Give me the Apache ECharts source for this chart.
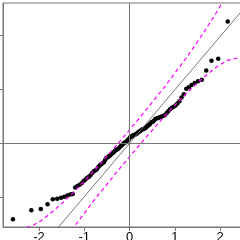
<!DOCTYPE html>
<html><head><meta charset="utf-8">
<script src="https://cdn.jsdelivr.net/npm/echarts@6/dist/echarts.min.js"></script>
<style>html,body{margin:0;padding:0;background:#fff}#c{width:240px;height:240px}</style>
</head><body><div id="c"></div>
<script>
// Theoretical normal quantiles (x) for the 100 ordered observations
var theoQ = [-2.576,-2.170,-1.960,-1.812,-1.695,-1.598,-1.514,-1.440,-1.372,-1.311,
 -1.254,-1.200,-1.150,-1.103,-1.058,-1.015,-0.974,-0.935,-0.896,-0.860,
 -0.824,-0.789,-0.755,-0.722,-0.690,-0.659,-0.628,-0.598,-0.568,-0.539,
 -0.510,-0.482,-0.454,-0.426,-0.399,-0.372,-0.345,-0.319,-0.292,-0.266,
 -0.240,-0.215,-0.189,-0.164,-0.138,-0.113,-0.088,-0.063,-0.038,-0.013,
 0.013,0.038,0.063,0.088,0.113,0.138,0.164,0.189,0.215,0.240,
 0.266,0.292,0.319,0.345,0.372,0.399,0.426,0.454,0.482,0.510,
 0.539,0.568,0.598,0.628,0.659,0.690,0.722,0.755,0.789,0.824,
 0.860,0.896,0.935,0.974,1.015,1.058,1.103,1.150,1.200,1.254,
 1.311,1.372,1.440,1.514,1.598,1.695,1.812,1.960,2.170,2.576];
// Sample quantiles (y)
var sampleQ = [-1.41,-1.24,-1.22,-1.13,-1.04,-1.03,-1.01,-0.99,-0.97,-0.95,
 -0.94,-0.82,-0.79,-0.77,-0.74,-0.70,-0.67,-0.64,-0.62,-0.59,
 -0.55,-0.52,-0.50,-0.48,-0.44,-0.41,-0.39,-0.37,-0.35,-0.31,
 -0.27,-0.26,-0.24,-0.22,-0.20,-0.18,-0.16,-0.14,-0.12,-0.11,
 -0.09,-0.07,-0.05,-0.03,-0.01,0.01,0.02,0.04,0.06,0.08,
 0.11,0.12,0.14,0.15,0.16,0.17,0.18,0.20,0.22,0.23,
 0.25,0.26,0.27,0.28,0.30,0.32,0.34,0.36,0.39,0.40,
 0.42,0.45,0.46,0.47,0.48,0.49,0.50,0.51,0.53,0.56,
 0.60,0.63,0.66,0.68,0.70,0.74,0.78,0.85,0.91,1.01,
 1.04,1.08,1.12,1.15,1.18,1.35,1.53,1.57,2.26,2.45];
// Confidence envelope
var bandX = [-2.576,-2.17,-1.96,-1.75,-1.5,-1.25,-1.0,-0.75,-0.5,-0.25,0,0.25,0.5,0.75,1.0,1.25,1.5,1.75,1.96,2.17,2.576];
var bandUpper = [-1.62,-1.54,-1.44,-1.30,-1.12,-0.92,-0.70,-0.48,-0.24,0.00,0.25,0.50,0.76,1.02,1.30,1.58,1.88,2.20,2.48,2.80,3.53];
var bandLower = [-3.53,-2.80,-2.48,-2.20,-1.88,-1.58,-1.30,-1.02,-0.76,-0.50,-0.25,0.00,0.24,0.48,0.70,0.92,1.12,1.30,1.44,1.54,1.62];
// Reference line
var lineIntercept = 0.0, lineSlope = 0.99;
var xTicks = [-2,-1,0,1,2];
var yTicks = [-1,0,1,2];

var xMin = -2.796, xMax = 2.773, yMin = -1.553, yMax = 2.603;
var pts = theoQ.map(function(x,i){return [x, sampleQ[i]];});
var up = bandX.map(function(x,i){return [x, bandUpper[i]];});
var lo = bandX.map(function(x,i){return [x, bandLower[i]];});
var ref = [[-4, lineIntercept + lineSlope*-4],[4, lineIntercept + lineSlope*4]];
var gray = '#777';
var chart = echarts.init(document.getElementById('c'), null, {renderer:'canvas'});
chart.setOption({
  animation:false,
  grid:{left:3, top:3, right:-15, bottom:13, show:true, borderColor:gray, borderWidth:1, containLabel:false, outerBoundsMode:'none'},
  xAxis:{type:'value', min:xMin, max:xMax,
    axisLine:{show:true, onZero:false, lineStyle:{color:gray, width:1}},
    axisTick:{show:true, length:4, customValues:xTicks, lineStyle:{color:gray}},
    axisLabel:{show:true, customValues:xTicks, margin:4, fontSize:13, color:'#000', fontFamily:'Liberation Sans'},
    splitLine:{show:false}},
  yAxis:{type:'value', min:yMin, max:yMax,
    axisLine:{show:true, onZero:false, lineStyle:{color:gray, width:1}},
    axisTick:{show:true, length:3, customValues:yTicks, lineStyle:{color:gray}},
    axisLabel:{show:false, customValues:yTicks},
    splitLine:{show:false}},
  series:[
    {type:'line', data:ref, symbol:'none', clip:true, silent:true,
     lineStyle:{color:gray, width:1},
     markLine:{silent:true, symbol:'none', label:{show:false},
       lineStyle:{color:gray, width:1, type:'solid'},
       data:[{xAxis:0},{yAxis:0}]}},
    {type:'line', data:up, symbol:'none', clip:true, silent:true,
     lineStyle:{color:'#ff00ff', width:1.2, type:[4,3]}},
    {type:'line', data:lo, symbol:'none', clip:true, silent:true,
     lineStyle:{color:'#ff00ff', width:1.2, type:[4,3]}},
    {type:'scatter', data:pts, symbol:'circle', symbolSize:4.5, clip:true,
     itemStyle:{color:'#000', opacity:1}}
  ]
});
</script></body></html>
